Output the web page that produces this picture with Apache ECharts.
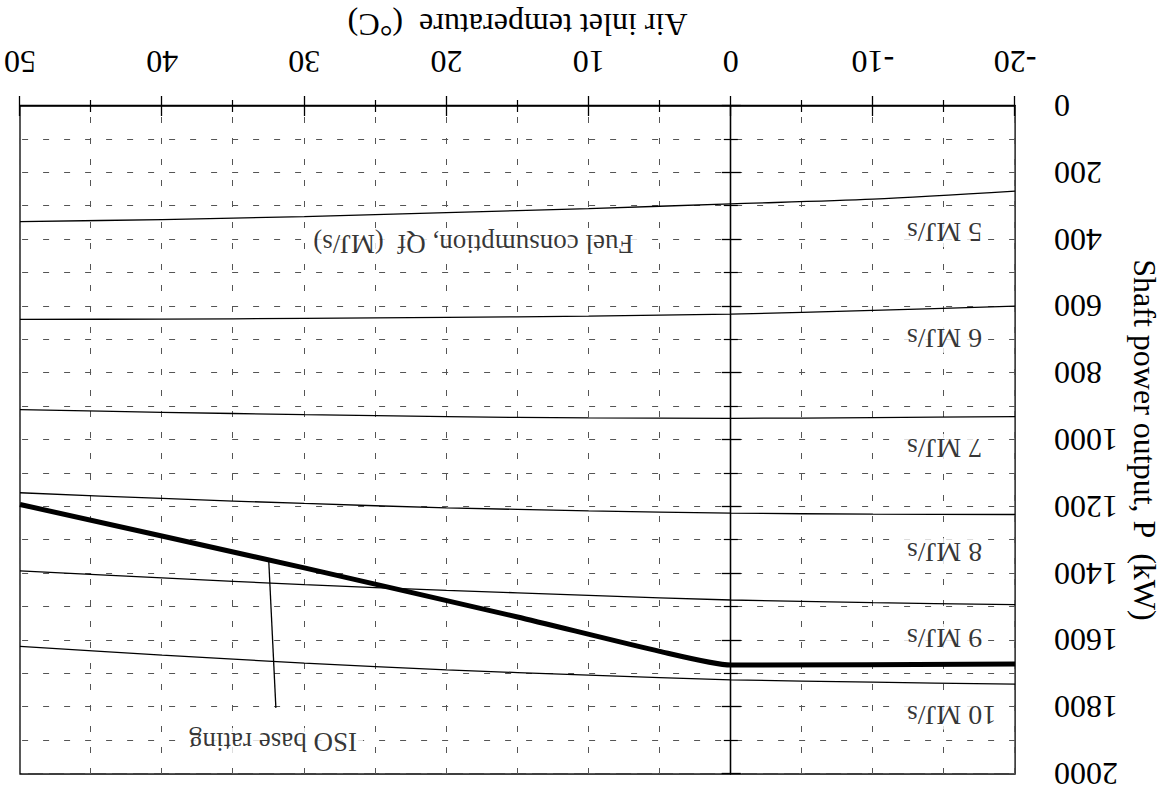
<!DOCTYPE html>
<html lang="en">
<head>
<meta charset="UTF-8">
<title>Shaft power output vs air inlet temperature</title>
<script src="https://cdn.jsdelivr.net/npm/echarts@6.0.0/dist/echarts.min.js"></script>
<style>
    html, body { margin: 0; padding: 0; background: #fff; }
    /* the source figure is printed upside down, so the whole chart is turned */
    #main { width: 1169px; height: 794px; transform: rotate(180deg); }
</style>
</head>
<body>
<div id="main"></div>
<script>
    // air inlet temperature (degC) sample points for the fuel curves
    var temps = [-20, -10, 0, 10, 20, 30, 40, 50];

    // shaft power (kW) along each constant fuel consumption line
    var fuel5 = [255, 279, 293, 307, 319, 331, 340, 346];
    var fuel6 = [599, 612, 623, 629, 633, 636, 638, 639];
    var fuel7 = [930, 933, 935, 934, 930, 924, 917, 909];
    var fuel8 = [1223, 1222, 1219, 1212, 1203, 1190, 1175, 1158];
    var fuel9 = [1493, 1487, 1479, 1465, 1450, 1433, 1413, 1392];
    var fuel10 = [1731, 1725, 1718, 1704, 1688, 1668, 1644, 1618];

    // ISO base rating line
    var isoTemps = [-20, 0, 5, 15, 30, 50];
    var isoPower = [1671, 1674, 1633, 1530, 1383, 1193];

    // leader from the ISO line down to its caption
    var leaderTemps = [32.5, 32.0];
    var leaderPower = [1363, 1802];

    // curve captions
    var curveNames = ['5 MJ/s', '6 MJ/s', '7 MJ/s', '8 MJ/s', '9 MJ/s', '10 MJ/s'];
    var captionTemp = -12.1;
    var captionPower = [380, 697, 1024, 1336, 1593, 1825];

    var fuelTitle = 'Fuel consumption, Qf  (MJ/s)';
    var fuelTitleAt = [18.1, 413];
    var isoTitle = 'ISO base rating';
    var isoTitleAt = [32.2, 1903];

    var serif = "'Liberation Serif', 'Times New Roman', serif";
    var dash = { color: '#555', width: 1, type: [6, 15] };

    function pairs(xs, ys) {
        return xs.map(function (x, i) { return [x, ys[i]]; });
    }

    function curve(values) {
        return {
            type: 'line',
            data: pairs(temps, values),
            smooth: 0.3,
            showSymbol: false,
            lineStyle: { color: '#000', width: 1.3 },
            silent: true
        };
    }

    var series = [fuel5, fuel6, fuel7, fuel8, fuel9, fuel10].map(curve);

    // solid vertical line at 0 degC
    series[0].markLine = {
        silent: true,
        symbol: 'none',
        label: { show: false },
        lineStyle: { color: '#000', width: 1.3, type: 'solid' },
        data: [{ xAxis: 0 }]
    };

    series.push({
        type: 'line',
        data: pairs(isoTemps, isoPower),
        smooth: 0.2,
        showSymbol: false,
        lineStyle: { color: '#000', width: 5 },
        silent: true
    });

    series.push({
        type: 'line',
        data: pairs(leaderTemps, leaderPower),
        showSymbol: false,
        lineStyle: { color: '#000', width: 1.3 },
        silent: true
    });

    series.push({
        type: 'scatter',
        symbolSize: 0,
        silent: true,
        data: curveNames.map(function (n, i) { return [captionTemp, captionPower[i], n]; }),
        label: {
            show: true,
            position: 'left',
            distance: 0,
            color: '#000',
            fontFamily: serif,
            fontSize: 28,
            backgroundColor: '#fff',
            padding: [0, 4],
            formatter: function (p) { return p.value[2]; }
        }
    });

    series.push({
        type: 'scatter',
        symbolSize: 0,
        silent: true,
        data: [fuelTitleAt.concat([fuelTitle]), isoTitleAt.concat([isoTitle])],
        label: {
            show: true,
            position: 'inside',
            color: '#000',
            fontFamily: serif,
            fontSize: 27,
            backgroundColor: '#fff',
            padding: [0, 6],
            formatter: function (p) { return p.value[2]; }
        }
    });

    var myChart = echarts.init(document.getElementById('main'), null, { renderer: 'svg' });

    var option = {
        backgroundColor: '#fff',
        animation: false,
        grid: {
            left: 136, right: 20, top: 20, bottom: 106,
            show: true,
            borderColor: '#000',
            borderWidth: 1.3,
            backgroundColor: 'transparent'
        },
        xAxis: [{
            type: 'value',
            position: 'bottom',
            min: -20, max: 50, interval: 10,
            name: 'Air inlet temperature  (\u00b0C)',
            nameLocation: 'middle',
            nameGap: 64,
            nameTextStyle: { color: '#000', fontFamily: serif, fontSize: 32 },
            axisLine: { show: true, lineStyle: { color: '#000', width: 1.3 } },
            axisTick: { show: true, length: 10, lineStyle: { color: '#000', width: 1.3 } },
            minorTick: { show: true, splitNumber: 2, length: 6, lineStyle: { color: '#000', width: 1.2 } },
            axisLabel: { color: '#000', fontFamily: serif, fontSize: 32, margin: 28 },
            splitLine: { show: true, lineStyle: dash },
            minorSplitLine: { show: true, lineStyle: dash }
        }, {
            type: 'value',
            position: 'bottom',
            min: -20, max: 50, interval: 10,
            axisLine: { show: false },
            axisTick: { show: true, inside: true, length: 10, lineStyle: { color: '#000', width: 1.3 } },
            minorTick: { show: true, splitNumber: 2, length: 6, lineStyle: { color: '#000', width: 1.2 } },
            axisLabel: { show: false },
            splitLine: { show: false }
        }],
        yAxis: [{
            type: 'value',
            position: 'left',
            min: 0, max: 2000, interval: 200,
            name: 'Shaft power output, P  (kW)',
            nameLocation: 'middle',
            nameGap: 102,
            nameTextStyle: { color: '#000', fontFamily: serif, fontSize: 32 },
            axisLine: { show: true, lineStyle: { color: '#000', width: 1.3 } },
            axisTick: { show: true, length: 10, lineStyle: { color: '#000', width: 1.3 } },
            minorTick: { show: true, splitNumber: 2, length: 7, lineStyle: { color: '#000', width: 1.2 } },
            axisLabel: {
                color: '#000', fontFamily: serif, fontSize: 32, margin: 39,
                formatter: function (v) { return String(v); }
            },
            splitLine: { show: true, lineStyle: dash },
            minorSplitLine: { show: true, lineStyle: dash }
        }, {
            type: 'value',
            position: 'left',
            min: 0, max: 2000, interval: 200,
            axisLine: { show: false },
            axisTick: { show: true, inside: true, length: 9, lineStyle: { color: '#000', width: 1.3 } },
            minorTick: { show: true, splitNumber: 2, length: 7, lineStyle: { color: '#000', width: 1.2 } },
            axisLabel: { show: false },
            splitLine: { show: false }
        }],
        series: series
    };
    myChart.setOption(option);
</script>
</body>
</html>
